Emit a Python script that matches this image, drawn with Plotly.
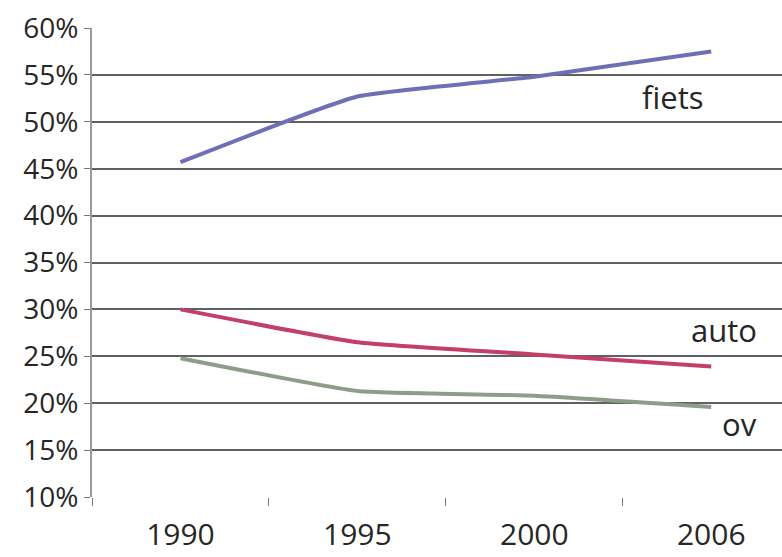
import plotly.graph_objects as go

years = ["1990", "1995", "2000", "2006"]
fiets = [45.7, 52.7, 54.8, 57.5]
auto = [30.0, 26.5, 25.2, 23.9]
ov = [24.8, 21.3, 20.8, 19.6]
series_names = ["fiets", "auto", "ov"]
colors = ["#6f6fb5", "#c23f66", "#8e9d8a"]
label_y = [52.6, 27.8, 17.8]
label_x = [2.97, 3.27, 3.27]
yticks = [10, 15, 20, 25, 30, 35, 40, 45, 50, 55, 60]

fig = go.Figure()
for name, vals, col in zip(series_names, [fiets, auto, ov], colors):
    fig.add_trace(go.Scatter(x=years, y=vals, mode="lines", name=name,
                             line=dict(color=col, width=4, shape="spline", smoothing=0.4)))

for name, lx, ly in zip(series_names, label_x, label_y):
    fig.add_annotation(x=lx, y=ly, text=name, showarrow=False, xanchor="right",
                       yanchor="middle", font=dict(size=31, color="#262626"))

fig.update_layout(
    width=782, height=557,
    margin=dict(l=92, r=0, t=28, b=60),
    paper_bgcolor="white", plot_bgcolor="white",
    showlegend=False,
    font=dict(family="Open Sans", color="#262626"),
    xaxis=dict(type="category", range=[-0.5, 3.4], tickson="boundaries",
               ticks="outside", ticklen=8, tickcolor="#777", showgrid=False,
               showline=False, tickfont=dict(size=30), ticklabelstandoff=17,
               automargin=False),
    yaxis=dict(range=[10, 60], tickvals=yticks, ticktext=[f"{v}%" for v in yticks],
               ticks="outside", ticklen=6, tickcolor="#777",
               showgrid=True, gridcolor="#606060", gridwidth=2,
               showline=True, linecolor="#999", linewidth=2,
               zeroline=False, tickfont=dict(size=28), automargin=False),
)
fig.write_html("out.html")
